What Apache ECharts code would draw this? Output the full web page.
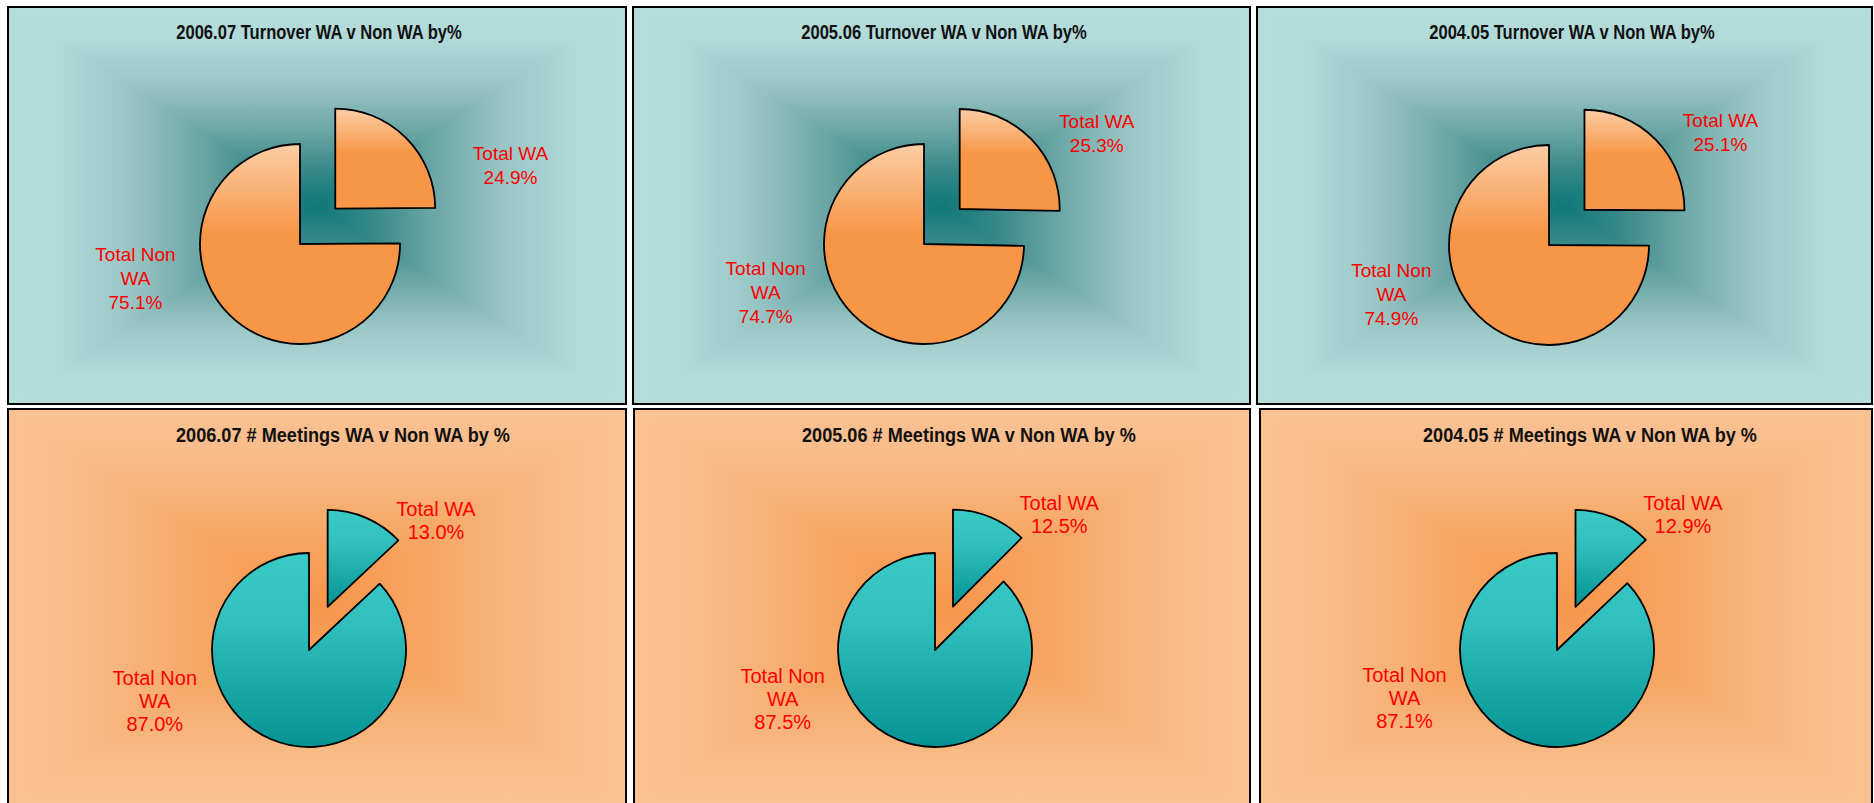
<!DOCTYPE html>
<html>
<head>
<meta charset="utf-8">
<script src="https://cdn.jsdelivr.net/npm/echarts@6/dist/echarts.min.js"></script>
<style>
html,body{margin:0;padding:0;background:#ffffff;}
#chart{width:1874px;height:803px;}
</style>
</head>
<body>
<div id="chart"></div>
<script>
// ---------------- data ----------------
const categories = ['Total WA', 'Total Non\nWA'];
const periods = ['2006.07', '2005.06', '2004.05'];
const turnoverWA = [24.9, 25.3, 25.1];
const turnoverNonWA = [75.1, 74.7, 74.9];
const meetingsWA = [13.0, 12.5, 12.9];
const meetingsNonWA = [87.0, 87.5, 87.1];
const turnoverTitles = ['2006.07 Turnover WA v Non WA by%', '2005.06 Turnover WA v Non WA by%', '2004.05 Turnover WA v Non WA by%'];
const meetingsTitles = ['2006.07 # Meetings WA v Non WA by %', '2005.06 # Meetings WA v Non WA by %', '2004.05 # Meetings WA v Non WA by %'];

// ---------------- layout / style ----------------
const FONT = '"Liberation Sans", Arial, sans-serif';
const topPanels = [[8, 7, 618, 397], [633, 7, 617, 397], [1257, 7, 615, 397]];
const bottomPanels = [[8, 409, 618, 397], [634, 409, 616, 397], [1260, 409, 612, 397]];
const topTitleX = [319, 944, 1572];
const bottomTitleX = [343, 969, 1590];
const topCenters = [[300, 244], [924, 244], [1549, 245]];
const bottomCenters = [[309, 650], [935, 650], [1557, 650]];
// [length, length2] of the (hidden) label guide for [WA, Non WA]
const topLabelGuides = [[[-40, 83], [-51, 80]], [[8, 10], [-31, 59]], [[10, 8], [-30, 58]]];
const bottomLabelGuides = [[[-3, 21], [-41, 82]], [[3, 18], [-44, 82]], [[3, 18], [-45, 82]]];

const tealBg = [
  {offset: 0, color: '#B4DCDB'}, {offset: 0.15, color: '#B2DAD9'}, {offset: 0.4, color: '#98C5C4'},
  {offset: 0.65, color: '#66A2A2'}, {offset: 0.82, color: '#378888'}, {offset: 1, color: '#107878'}
];
const orangeBg = [
  {offset: 0, color: '#FAC192'}, {offset: 0.2, color: '#F9BD8B'}, {offset: 0.5, color: '#F7AE70'},
  {offset: 0.8, color: '#F69E58'}, {offset: 1, color: '#F7964A'}
];
const orangeFill = {type: 'linear', x: 0, y: 0, x2: 0, y2: 1, colorStops: [
  {offset: 0, color: '#FBCDA5'}, {offset: 0.45, color: '#F79646'}, {offset: 1, color: '#F79646'}]};
const tealFill = {type: 'linear', x: 0, y: 0, x2: 0, y2: 1, colorStops: [
  {offset: 0, color: '#3BCBC7'}, {offset: 0.35, color: '#31C0BD'}, {offset: 1, color: '#059393'}]};

function panelGraphics(p, stops) {
  const [x, y, w, h] = p;
  const cx = x + w / 2, cy = y + h / 2;
  const lin = (x0, y0, x1, y1) => ({type: 'linear', x: x0, y: y0, x2: x1, y2: y1, colorStops: stops});
  const tri = (pts, g) => ({type: 'polygon', silent: true, z: 1, shape: {points: pts},
    style: {fill: g, stroke: g, lineWidth: 1.2}});
  return [
    tri([[x, y], [x + w, y], [cx, cy]], lin(0, 0, 0, 1)),
    tri([[x, y + h], [x + w, y + h], [cx, cy]], lin(0, 1, 0, 0)),
    tri([[x, y], [x, y + h], [cx, cy]], lin(0, 0, 1, 0)),
    tri([[x + w, y], [x + w, y + h], [cx, cy]], lin(1, 0, 0, 0)),
    {type: 'rect', silent: true, z: 3, shape: {x: x, y: y, width: w, height: h},
     style: {fill: 'none', stroke: '#000000', lineWidth: 2}}
  ];
}
function titleGraphic(text, x, y, size, sx) {
  return {type: 'text', silent: true, z: 4, x: x, y: y, scaleX: sx,
    style: {text: text, fill: '#111111', font: 'bold ' + size + 'px ' + FONT, textAlign: 'center', textVerticalAlign: 'middle'}};
}

function pieSeries(values, center, radius, offset, fill, guides, fs, lh) {
  return {
    type: 'pie', center: center, radius: radius, startAngle: 90, clockwise: true,
    selectedMode: 'single', selectedOffset: offset, avoidLabelOverlap: false,
    animation: false, silent: true, z: 5,
    label: {
      show: true, position: 'outside', distanceToLabelLine: 0,
      formatter: p => p.name.split('\n').map(s => '{a|' + s + '}').join('\n') + '\n{a|' + p.value.toFixed(1) + '%}',
      rich: {a: {width: 100, align: 'center', fontSize: fs, lineHeight: lh, color: '#FF0000', fontFamily: FONT}}
    },
    itemStyle: {color: fill, borderColor: '#000000', borderWidth: 1.8},
    data: values.map((v, i) => ({
      name: categories[i], value: v, selected: i === 0,
      labelLine: {show: false, length: guides[i][0], length2: guides[i][1]}
    }))
  };
}

const graphics = [];
const series = [];
for (let k = 0; k < 3; k++) {
  graphics.push(...panelGraphics(topPanels[k], tealBg));
  graphics.push(...panelGraphics(bottomPanels[k], orangeBg));
  graphics.push(titleGraphic(turnoverTitles[k], topTitleX[k], 33, 19.5, 0.85));
  graphics.push(titleGraphic(meetingsTitles[k], bottomTitleX[k], 435, 19.5, 0.93));
  series.push(pieSeries([turnoverWA[k], turnoverNonWA[k]], topCenters[k], 100, 50, orangeFill, topLabelGuides[k], 19, 24));
  series.push(pieSeries([meetingsWA[k], meetingsNonWA[k]], bottomCenters[k], 97, 47, tealFill, bottomLabelGuides[k], 20, 23));
}

const chart = echarts.init(document.getElementById('chart'), null, {renderer: 'svg', width: 1874, height: 803});
chart.setOption({
  animation: false,
  backgroundColor: '#ffffff',
  graphic: {elements: graphics},
  series: series
});
</script>
</body>
</html>
